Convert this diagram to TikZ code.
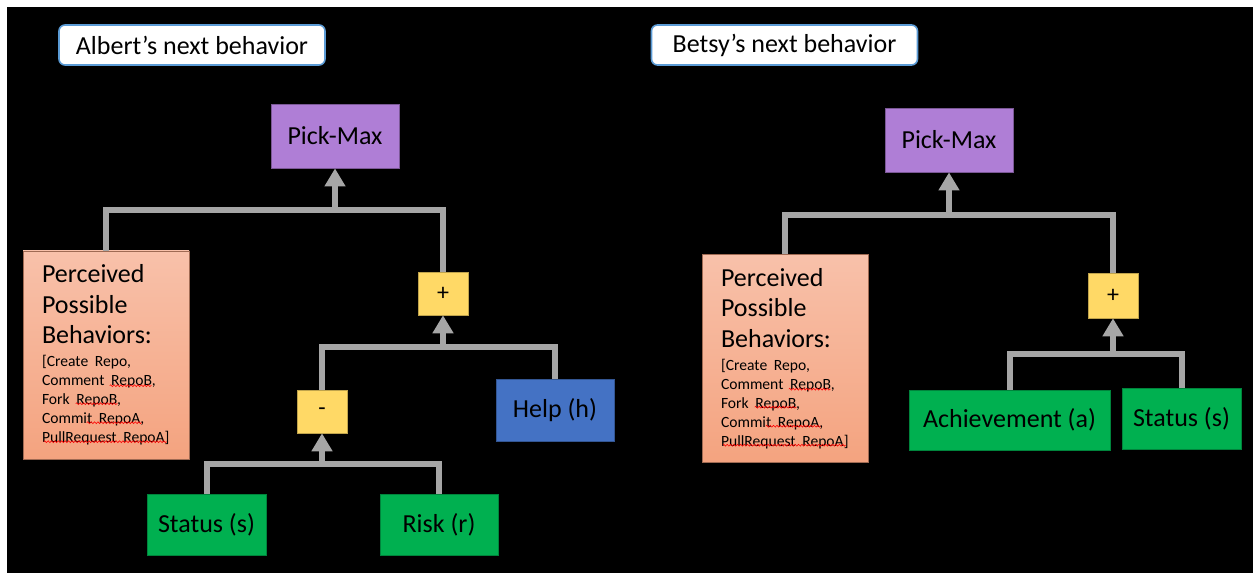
\documentclass[tikz,border=0pt]{standalone}
\usepackage{fontspec}
\setmainfont{Carlito}
\usetikzlibrary{arrows.meta,decorations.pathmorphing}

\definecolor{linkgray}{RGB}{166,166,166}
\definecolor{pickpurple}{RGB}{175,126,214}
\definecolor{opyellow}{RGB}{255,217,102}
\definecolor{helpblue}{RGB}{68,114,196}
\definecolor{valgreen}{RGB}{0,176,80}
\definecolor{saltop}{RGB}{248,193,170}
\definecolor{salbot}{RGB}{244,163,127}
\definecolor{titleblue}{RGB}{91,155,213}

\newcommand{\bigtext}{\fontsize{13}{15.25}\selectfont}
\newcommand{\behaviorlist}{%
  \raggedright\hyphenpenalty=10000
  {\bigtext Perceived\\Possible\\Behaviors:\par}\vskip1.8pt
  {\fontsize{7.8}{9.5}\selectfont [Create Repo,\\
  Comment RepoB,\\
  Fork RepoB,\\
  Commit RepoA,\\
  PullRequest RepoA]\par}}

\tikzset{
  title/.style={draw=titleblue, line width=0.8pt, fill=white, rounded corners=3pt,
    minimum width=133pt, minimum height=20pt, font=\bigtext},
  pickmax/.style={fill=pickpurple, draw=pickpurple!70!black, line width=0.4pt,
    minimum width=64pt, minimum height=32pt, font=\bigtext},
  opbox/.style={fill=opyellow, draw=opyellow!75!black, line width=0.3pt,
    minimum width=25pt, minimum height=21.5pt, font=\fontsize{12}{14}\selectfont},
  helpbox/.style={fill=helpblue, draw=helpblue!75!black, line width=0.3pt,
    minimum width=59pt, minimum height=31pt, font=\bigtext},
  valbox/.style={fill=valgreen, draw=valgreen!75!black, line width=0.3pt,
    minimum height=30.5pt, font=\bigtext},
  perceived/.style={top color=saltop, bottom color=salbot, draw=salbot!65!black,
    line width=0.3pt, minimum width=83pt, minimum height=104pt,
    text width=64pt, inner sep=0pt},
  link/.style={draw=linkgray, line width=3pt},
  up/.style={link, -{Triangle[width=10pt,length=9pt]}},
  spell/.style={draw=red, line width=0.3pt, decorate,
    decoration={snake, amplitude=0.45pt, segment length=1.7pt}}
}

\begin{document}
\begin{tikzpicture}[x=0.5pt, y=-0.5pt]
  \useasboundingbox (0,0) rectangle (1253,576);
  \fill[white] (0,0) rectangle (1253,576);
  \fill[black] (7,7) rectangle (1253,573);

  % Albert
  \node[title] (atitle) at (192,45) {Albert’s next behavior};
  \node[pickmax] (apick) at (335,136) {Pick-Max};
  \node[perceived] (apercv) at (106,355) {\behaviorlist};
  \node[opbox] (aplus) at (443,293.5) {+};
  \node[helpbox] (ahelp) at (555,410) {Help (h)};
  \node[opbox] (aminus) at (322,411.5) {-};
  \node[valbox, minimum width=59.5pt] (astatus) at (206.5,524.5) {Status (s)};
  \node[valbox, minimum width=59pt] (arisk) at (439,524.5) {Risk (r)};

  \coordinate (ajpick) at (335,210);
  \coordinate (ajplus) at (443,347);
  \coordinate (ajminus) at (322,464);

  \draw[link] (apercv.north) |- (ajpick);
  \draw[link] (aplus.north) |- (ajpick);
  \draw[up] (ajpick) -- (apick.south);
  \draw[link] (aminus.north) |- (ajplus);
  \draw[link] (ahelp.north) |- (ajplus);
  \draw[up] (ajplus) -- (aplus.south);
  \draw[link] (astatus.north) |- (ajminus);
  \draw[link] (arisk.north) |- (ajminus);
  \draw[up] (ajminus) -- (aminus.south);

  % Betsy
  \node[title] (btitle) at (784.5,45) {Betsy’s next behavior};
  \node[pickmax] (bpick) at (949,140) {Pick-Max};
  \node[perceived] (bpercv) at (785,358.5) {\behaviorlist};
  \node[opbox, minimum height=22.5pt] (bplus) at (1113,295.5) {+};
  \node[valbox, minimum width=100.5pt, minimum height=30pt] (bachieve) at (1009.5,420) {Achievement (a)};
  \node[valbox, minimum width=59.5pt] (bstatus) at (1181.5,418.5) {Status (s)};

  \coordinate (bjpick) at (949,215);
  \coordinate (bjplus) at (1113,354);

  \draw[link] (bpercv.north) |- (bjpick);
  \draw[link] (bplus.north) |- (bjpick);
  \draw[up] (bjpick) -- (bpick.south);
  \draw[link] (bachieve.north) |- (bjplus);
  \draw[link] (bstatus.north) |- (bjplus);
  \draw[up] (bjplus) -- (bplus.south);

  % spell-check marks under the repo names
  \foreach \pbox in {apercv,bpercv} {
    \draw[spell] ([shift={(87,135)}]\pbox.north west) -- ++(42,0);
    \draw[spell] ([shift={(53,153)}]\pbox.north west) -- ++(42,0);
    \draw[spell] ([shift={(64,172)}]\pbox.north west) -- ++(55,0);
    \draw[spell] ([shift={(21,191)}]\pbox.north west) -- ++(123,0);
  }
\end{tikzpicture}
\end{document}
